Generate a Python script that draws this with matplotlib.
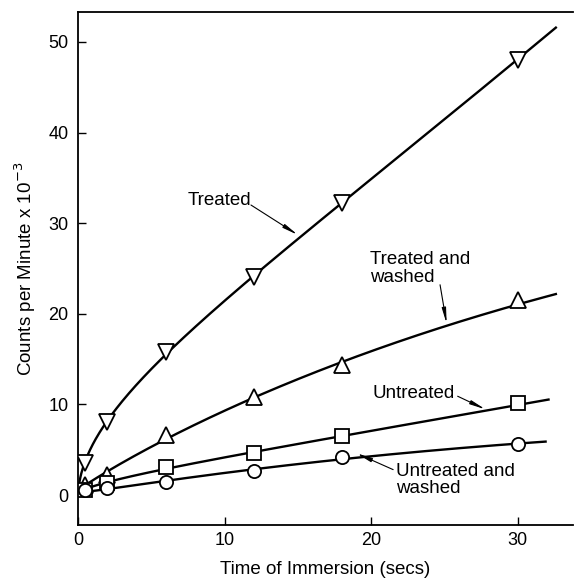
import numpy as np
import matplotlib
matplotlib.use("Agg")
import matplotlib.pyplot as plt

plt.rcParams['font.family'] = ['Liberation Sans', 'DejaVu Sans']

# ---- data ----
time_s = [0.5, 2, 6, 12, 18, 30]
treated = [3.5, 8.1, 15.8, 24.1, 32.2, 48.0]
treated_washed = [1.1, 2.2, 6.6, 10.8, 14.3, 21.5]
untreated = [0.6, 1.3, 3.1, 4.6, 6.5, 10.1]
untreated_washed = [0.55, 0.75, 1.45, 2.7, 4.15, 5.6]

# smooth fitted curves: start and end points
curve_start_x = [0.1, 0.2, 0.2, 0.2]
curve_start_y = [1.5, 0.8, 0.4, 0.3]
curve_end_x = [32.6, 32.6, 32.1, 31.9]
curve_end_y = [51.6, 22.1, 10.5, 5.9]

series_names = ["Treated", "Treated and\nwashed", "Untreated", "Untreated and\nwashed"]
x_ticks = [0, 10, 20, 30]
y_ticks = [0, 10, 20, 30, 40, 50]


def smooth_curve(x, y, xn, deg=3):
    # least-squares smooth fit in sqrt(time), like a hand-drawn fitted curve
    u = np.sqrt(np.asarray(x, float))
    w = np.ones(len(x)); w[0] = w[-1] = 2.0
    c = np.polyfit(u, np.asarray(y, float), deg, w=w)
    return np.polyval(c, np.sqrt(xn))


fig = plt.figure(figsize=(5.74, 5.86), dpi=100)
ax = fig.add_axes([78 / 574, 1 - 525 / 586, (573 - 78) / 574, (525 - 12) / 586])

series = [treated, treated_washed, untreated, untreated_washed]
markers = ['v', '^', 's', 'o']
msizes = [11.5, 11.5, 10, 9.5]
for i, ys in enumerate(series):
    cx = [curve_start_x[i]] + time_s + [curve_end_x[i]]
    cy = [curve_start_y[i]] + ys + [curve_end_y[i]]
    xn = np.linspace(cx[0], cx[-1], 500)
    ax.plot(xn, smooth_curve(cx, cy, xn), color='black', lw=1.7, zorder=2)
for i, ys in enumerate(series):
    ax.plot(time_s, ys, linestyle='none', marker=markers[i], ms=msizes[i],
            mfc='white', mec='black', mew=1.3, zorder=3 + i)

# annotations (text position, arrow start, arrow tip)
fs = 13.5
ann = [
    (series_names[0], (7.5, 32.5), (11.8, 32.0), (15.0, 28.7)),
    (series_names[1], (19.9, 25.0), (24.7, 23.2), (25.15, 18.9)),
    (series_names[2], (20.1, 11.2), (25.9, 10.9), (27.8, 9.45)),
    (series_names[3], (21.7, 1.65), (21.5, 2.8), (19.0, 4.6)),
]
for label, tpos, astart, atip in ann:
    ax.text(tpos[0], tpos[1], label, fontsize=fs, ha='left', va='center',
            linespacing=1.05)
    ax.annotate('', xy=atip, xytext=astart,
                arrowprops=dict(arrowstyle='-|>,head_length=0.9,head_width=0.12',
                                color='black', lw=0.8, shrinkA=0, shrinkB=0))

ax.set_xlim(0, 33.77)
ax.set_ylim(-3.31, 53.3)
ax.set_xticks(x_ticks)
ax.set_yticks(y_ticks)
ax.tick_params(direction='in', length=6, width=1.0, labelsize=13)
ax.tick_params(axis='x', pad=5)
ax.tick_params(axis='y', pad=7)
ax.spines['right'].set_visible(False)
for s in ['left', 'bottom', 'top']:
    ax.spines[s].set_linewidth(1.3)

ax.set_xlabel('Time of Immersion (secs)', fontsize=13.5, labelpad=9)
ax.set_ylabel('Counts per Minute x 10$^{-3}$', fontsize=13.5, labelpad=7)

fig.savefig('out.png', dpi=100)
